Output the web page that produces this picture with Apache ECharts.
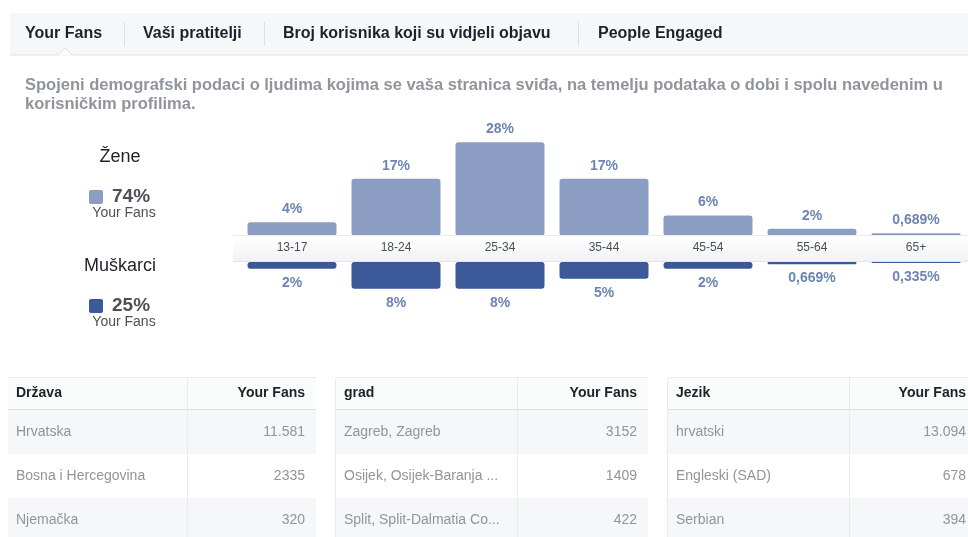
<!DOCTYPE html>
<html>
<head>
<meta charset="utf-8">
<script src="https://cdn.jsdelivr.net/npm/echarts@6/dist/echarts.min.js"></script>
<style>
  body { margin: 0; background: #fff; }
  #fans { width: 968px; height: 537px; }
</style>
</head>
<body>
<div id="fans"></div>
<script>
// podaci
const ageGroups = ['13-17', '18-24', '25-34', '35-44', '45-54', '55-64', '65+']
const womenPct = [4, 17, 28, 17, 6, 2, 0.689]
const menPct = [2, 8, 8, 5, 2, 0.669, 0.335]
const genderNames = ['Žene', 'Muškarci']
const genderTotals = [74, 25]
const tabNames = ['Your Fans', 'Vaši pratitelji', 'Broj korisnika koji su vidjeli objavu', 'People Engaged']
const description = ['Spojeni demografski podaci o ljudima kojima se vaša stranica sviđa, na temelju podataka o dobi i spolu navedenim u', 'korisničkim profilima.']
const tableHeaders = [['Država', 'Your Fans'], ['grad', 'Your Fans'], ['Jezik', 'Your Fans']]
const countries = ['Hrvatska', 'Bosna i Hercegovina', 'Njemačka']
const countryFans = [11581, 2335, 320]
const cities = ['Zagreb, Zagreb', 'Osijek, Osijek-Baranja ...', 'Split, Split-Dalmatia Co...']
const cityFans = [3152, 1409, 422]
const languages = ['hrvatski', 'Engleski (SAD)', 'Serbian']
const languageFans = [13094, 678, 394]

const FONT = '"Liberation Sans", Arial, Helvetica, sans-serif'
const womenColor = '#8b9dc3'
const menColor = '#3b5998'
const labelColor = '#6d84b4'

function pct (v) {
  return String(v).replace('.', ',') + '%'
}
function fmtFans (n) {
  // 4 znamenke bez točke, veći brojevi s točkom
  return n >= 10000 ? String(n).replace(/\B(?=(\d{3})+(?!\d))/g, '.') : String(n)
}

let g = []

// tabovi
g.push({ type: 'rect', shape: { x: 10, y: 13, width: 970, height: 42 }, style: { fill: '#f6f7f9' }, z: 1 })
g.push({ type: 'line', shape: { x1: 10, y1: 55, x2: 968, y2: 55 }, style: { stroke: '#dddfe2', lineWidth: 1 }, z: 1 })
g.push({ type: 'polygon', shape: { points: [[57, 56], [65, 48], [73, 56]] }, style: { fill: '#fff', stroke: '#dddfe2' }, z: 2 })
g.push({ type: 'rect', shape: { x: 56, y: 55.5, width: 18, height: 2 }, style: { fill: '#fff' }, z: 2 })
const tabX = [25, 143, 283, 598]
const sepX = [124, 264, 578]
tabNames.forEach((t, i) => {
  g.push({ type: 'text', x: tabX[i], y: 34, z: 3, style: { text: t, font: 'bold 16px ' + FONT, fill: '#1d2129', verticalAlign: 'middle' } })
})
sepX.forEach(x => {
  g.push({ type: 'line', shape: { x1: x + 0.5, y1: 22, x2: x + 0.5, y2: 46 }, style: { stroke: '#dddfe2' }, z: 3 })
})

// opis
description.forEach((t, i) => {
  g.push({ type: 'text', x: 25, y: 85 + i * 19, style: { text: t, font: 'bold 16.5px ' + FONT, fill: '#90949c', verticalAlign: 'middle' } })
})

// legenda spolova
const legendY = [157, 266]
const legendColors = [womenColor, menColor]
genderNames.forEach((name, i) => {
  const y = legendY[i]
  g.push({ type: 'text', x: 120, y: y, style: { text: name, font: '18px ' + FONT, fill: '#1d2129', align: 'center', verticalAlign: 'middle' } })
  g.push({ type: 'rect', shape: { x: 89, y: y + 33, width: 14, height: 14, r: 2 }, style: { fill: legendColors[i] } })
  g.push({ type: 'text', x: 112, y: y + 40, style: { text: genderTotals[i] + '%', font: 'bold 19px ' + FONT, fill: '#4b4f56', verticalAlign: 'middle' } })
  g.push({ type: 'text', x: 124, y: y + 56, style: { text: 'Your Fans', font: '14px ' + FONT, fill: '#4b4f56', align: 'center', verticalAlign: 'middle' } })
})

// traka s dobnim skupinama
g.push({
  type: 'rect',
  shape: { x: 233, y: 235, width: 740, height: 27 },
  style: {
    fill: new echarts.graphic.LinearGradient(0, 0, 0, 1, [{ offset: 0, color: '#ffffff' }, { offset: 1, color: '#f1f2f4' }])
  },
  z: 5
})
g.push({ type: 'line', shape: { x1: 233, y1: 235.5, x2: 968, y2: 235.5 }, style: { stroke: '#e9ebee' }, z: 5 })
g.push({ type: 'line', shape: { x1: 233, y1: 261.5, x2: 968, y2: 261.5 }, style: { stroke: '#e4e6ea' }, z: 5 })

// tablice
const tables = [
  { x0: 8, x1: 316, div: 187, names: countries, vals: countryFans },
  { x0: 336, x1: 648, div: 517, names: cities, vals: cityFans },
  { x0: 668, x1: 977, div: 849, names: languages, vals: languageFans }
]
const rowTop = 410
const rowH = 44
tables.forEach((t, ti) => {
  const w = t.x1 - t.x0
  g.push({ type: 'rect', shape: { x: t.x0, y: 377, width: w, height: 33 }, style: { fill: '#fafbfb' } })
  g.push({ type: 'line', shape: { x1: t.x0, y1: 377.5, x2: t.x1, y2: 377.5 }, style: { stroke: '#e9ebee' } })
  t.names.forEach((n, ri) => {
    const y = rowTop + ri * rowH
    g.push({ type: 'rect', shape: { x: t.x0, y: y, width: w, height: rowH }, style: { fill: ri % 2 === 0 ? '#f6f7f9' : '#ffffff' } })
    g.push({ type: 'text', x: t.x0 + 8, y: y + rowH / 2, z: 2, style: { text: n, font: '14px ' + FONT, fill: '#90949c', verticalAlign: 'middle' } })
    g.push({ type: 'text', x: t.x1 - 11, y: y + rowH / 2, z: 2, style: { text: fmtFans(t.vals[ri]), font: '14px ' + FONT, fill: '#90949c', align: 'right', verticalAlign: 'middle' } })
  })
  g.push({ type: 'line', shape: { x1: t.x0, y1: 409.5, x2: t.x1, y2: 409.5 }, style: { stroke: '#dddfe2' }, z: 2 })
  g.push({ type: 'line', shape: { x1: t.div + 0.5, y1: 378, x2: t.div + 0.5, y2: 537 }, style: { stroke: '#e9ebee' }, z: 2 })
  if (ti > 0) {
    g.push({ type: 'line', shape: { x1: t.x0 - 0.5, y1: 378, x2: t.x0 - 0.5, y2: 537 }, style: { stroke: '#e9ebee' }, z: 2 })
  }
  g.push({ type: 'text', x: t.x0 + 8, y: 393, z: 2, style: { text: tableHeaders[ti][0], font: 'bold 14px ' + FONT, fill: '#1d2129', verticalAlign: 'middle' } })
  g.push({ type: 'text', x: t.x1 - 11, y: 393, z: 2, style: { text: tableHeaders[ti][1], font: 'bold 14px ' + FONT, fill: '#1d2129', align: 'right', verticalAlign: 'middle' } })
})

let myChart = echarts.init(document.getElementById('fans'))
myChart.setOption({
  animation: false,
  graphic: { elements: g },
  grid: [
    { left: 240, width: 729, top: 135.5, height: 100 },
    { left: 240, width: 729, top: 262, height: 100 }
  ],
  xAxis: [
    {
      type: 'category',
      gridIndex: 0,
      data: ageGroups,
      z: 10,
      axisLine: { show: false },
      axisTick: { show: false },
      axisLabel: { margin: 6, fontSize: 12, color: '#4b4f56', fontFamily: FONT }
    },
    {
      type: 'category',
      gridIndex: 1,
      data: ageGroups,
      show: false
    }
  ],
  yAxis: [
    { type: 'value', gridIndex: 0, min: 0, max: 30, show: false },
    { type: 'value', gridIndex: 1, min: 0, max: 30, inverse: true, show: false }
  ],
  series: [
    {
      name: 'Žene',
      type: 'bar',
      xAxisIndex: 0,
      yAxisIndex: 0,
      data: womenPct,
      barWidth: 89,
      itemStyle: { color: womenColor, borderRadius: 3 },
      label: {
        show: true,
        position: 'top',
        distance: 6,
        formatter: p => pct(p.value),
        color: labelColor,
        fontWeight: 'bold',
        fontSize: 14,
        fontFamily: FONT
      }
    },
    {
      name: 'Muškarci',
      type: 'bar',
      xAxisIndex: 1,
      yAxisIndex: 1,
      data: menPct,
      barWidth: 89,
      itemStyle: { color: menColor, borderRadius: 3 },
      label: {
        show: true,
        position: 'bottom',
        distance: 7,
        formatter: p => pct(p.value),
        color: labelColor,
        fontWeight: 'bold',
        fontSize: 14,
        fontFamily: FONT
      }
    }
  ]
})
</script>
</body>
</html>
